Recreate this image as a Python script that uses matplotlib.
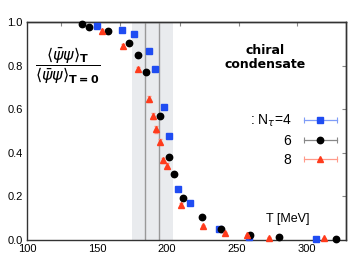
import matplotlib
matplotlib.use("Agg")
import matplotlib.pyplot as plt
from matplotlib.lines import Line2D
from matplotlib.legend_handler import HandlerLine2D, HandlerTuple

plt.rcParams['font.family'] = ['Liberation Sans', 'DejaVu Sans']
plt.rcParams['mathtext.fontset'] = 'dejavusans'

# N_tau = 4 (blue squares)
T4 = [149.8, 167.6, 176.4, 187.4, 191.4, 197.9, 201.8, 208.2, 216.6, 236.9, 258.8, 306.4]
c4 = [0.982, 0.962, 0.945, 0.867, 0.784, 0.612, 0.477, 0.234, 0.170, 0.050, 0.015, 0.005]
# N_tau = 6 (black circles)
T6 = [139.0, 144.5, 157.9, 173.1, 179.0, 185.0, 195.0, 201.5, 204.8, 211.4, 225.0, 238.8, 259.5, 279.8, 321.2]
c6 = [0.989, 0.977, 0.960, 0.902, 0.849, 0.771, 0.569, 0.379, 0.301, 0.193, 0.107, 0.049, 0.023, 0.012, 0.003]
# N_tau = 8 (red triangles)
T8 = [153.8, 168.8, 179.0, 187.1, 189.8, 192.0, 194.8, 197.2, 199.8, 210.3, 225.5, 241.2, 256.9, 272.9, 312.4]
c8 = [0.960, 0.890, 0.784, 0.645, 0.569, 0.507, 0.451, 0.365, 0.341, 0.161, 0.066, 0.031, 0.021, 0.011, 0.008]
e8 = [0.006, 0.008, 0.010, 0.014, 0.014, 0.014, 0.012, 0.012, 0.012, 0.008, 0.005, 0.004, 0.003, 0.003, 0.003]

band = (175, 204)
tc_lines = [184, 194]
legend_labels = [r': N$_\tau$=4', '6', '8']

blue = '#1f4cf2'
red = '#ff3b1c'

fig = plt.figure(figsize=(3.54, 2.66), dpi=100)
ax = fig.add_axes([27/354, 26/266, 319/354, 218/266])

ax.axvspan(band[0], band[1], color='#e9ebee', zorder=0, lw=0)
for t in tc_lines:
    ax.axvline(t, color='#999999', lw=1.0, zorder=1)

for art in [
    ax.errorbar(T4, c4, fmt='s', color=blue, ms=4.3, mec=blue, zorder=3),
    ax.errorbar(T6, c6, fmt='o', color='black', ms=4.6, zorder=4),
    ax.errorbar(T8, c8, yerr=e8, fmt='^', color=red, ecolor='#ff9a8a', elinewidth=0.8,
                capsize=1.5, ms=4.3, zorder=5)]:
    for ch in art.get_children():
        ch.set_clip_on(False)

ax.set_xlim(100, 328)
ax.set_ylim(0, 1.0)
ax.set_xticks([100, 150, 200, 250, 300])
ax.set_yticks([0.0, 0.2, 0.4, 0.6, 0.8, 1.0])
ax.set_yticklabels(['0.0', '0.2', '0.4', '0.6', '0.8', '1.0'])
ax.tick_params(axis='both', labelsize=8, length=0, pad=3)

# inner ticks on right and top
secy = ax.secondary_yaxis('right')
secy.set_yticks([0.2, 0.4, 0.6, 0.8])
secy.tick_params(direction='in', length=3, labelright=False, color='#888888')
secx = ax.secondary_xaxis('top')
secx.set_xticks([124.3, 166.4, 209.3, 251.4, 292.9])
secx.tick_params(direction='in', length=3, labeltop=False, color='#888888')

for s in ax.spines.values():
    s.set_linewidth(1.0)
    s.set_color('#333333')
for s in list(secy.spines.values()) + list(secx.spines.values()):
    s.set_linewidth(1.0)
    s.set_color('#333333')

ax.text(0.127, 0.80,
        r'$\dfrac{\langle\bar{\psi}\psi\rangle_{\mathbf{T}}}{\langle\bar{\psi}\psi\rangle_{\mathbf{T=0}}}$',
        transform=ax.transAxes, ha='center', va='center', fontsize=11.5)
ax.text(0.746, 0.835, 'chiral\ncondensate', transform=ax.transAxes, ha='center', va='center',
        fontsize=9, fontweight='bold', linespacing=1.1, family=['DejaVu Sans'])
ax.text(0.818, 0.096, 'T [MeV]', transform=ax.transAxes, ha='center', va='center', fontsize=9)

handles = []
hmap = {}
for col, lcol, mk, ms in [(blue, '#7f9cf7', 's', 4.3), ('black', '#888888', 'o', 4.6), (red, '#ff9a8a', '^', 4.3)]:
    capline = Line2D([0], [0], color=lcol, lw=0.9, marker='|', ms=4, mew=0.8)
    mark = Line2D([0], [0], color=col, lw=0, marker=mk, ms=ms)
    hmap[capline] = HandlerLine2D(numpoints=2)
    hmap[mark] = HandlerLine2D(numpoints=1)
    handles.append((capline, mark))
hmap[tuple] = HandlerTuple(ndivide=1, pad=0)
ax.legend(handles, legend_labels, handler_map=hmap, loc='center right',
          bbox_to_anchor=(0.985, 0.459), frameon=False, markerfirst=False,
          handlelength=3.0, fontsize=10, borderpad=0, borderaxespad=0,
          labelspacing=0.35, handletextpad=0.6, alignment='right')

fig.savefig('out.png', dpi=100)
